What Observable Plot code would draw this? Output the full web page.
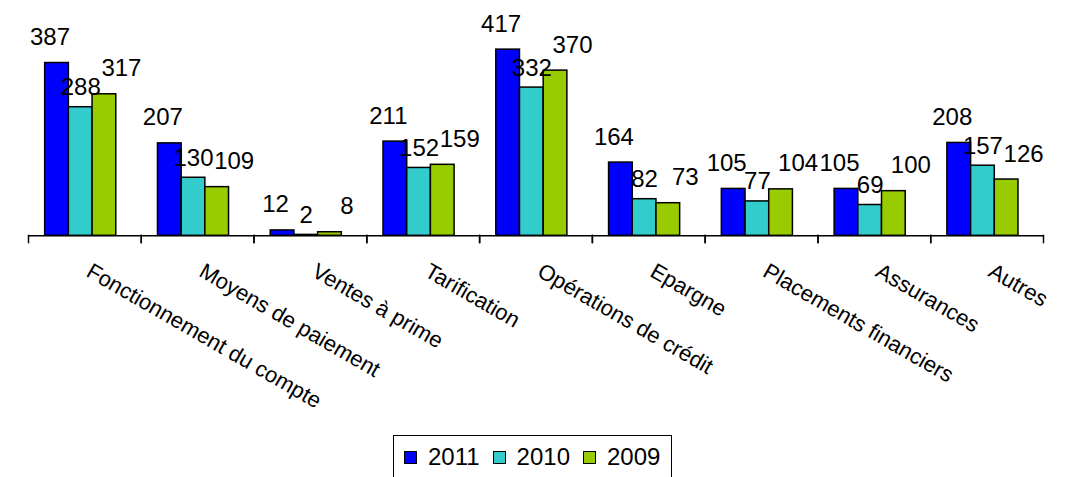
<!DOCTYPE html>
<html><head><meta charset="utf-8">
<script src="https://cdn.jsdelivr.net/npm/d3@7"></script>
<script src="https://cdn.jsdelivr.net/npm/@observablehq/plot@0.6"></script>
<style>
body{margin:0;background:#fff;font-family:"Liberation Sans",Arial,sans-serif;}
#chart svg{display:block;}
#legend{position:absolute;left:393px;top:435px;width:279px;height:60px;border:1.5px solid #000;box-sizing:border-box;display:flex;align-items:flex-start;padding:7px 0 0 10px;font-size:24px;color:#000;}
.item{display:flex;align-items:center;margin-right:13px;}
.sw{width:11px;height:11px;border:1.5px solid #000;margin-right:11px;}
</style></head><body>
<div id="chart"></div>
<div id="legend"></div>
<script>
const categories = ["Fonctionnement du compte","Moyens de paiement","Ventes à prime","Tarification","Opérations de crédit","Epargne","Placements financiers","Assurances","Autres"];
const years = ["2011","2010","2009"];
const values2011 = [387,207,12,211,417,164,105,105,208];
const values2010 = [288,130,2,152,332,82,77,69,157];
const values2009 = [317,109,8,159,370,73,104,100,126];
const colors = ["#0000ff","#33cccc","#99cc00"];

const series = [values2011, values2010, values2009];
const data = categories.flatMap((c,i) => years.map((y,j) => ({cat:c, year:y, value:series[j][i]})));
const labelDx = [-7, 0, 17];
const labelDy = [-18, -12, -18];

const font = "Liberation Sans, Arial, sans-serif";
const chart = Plot.plot({
  width: 1067,
  height: 430,
  marginLeft: 28,
  marginRight: 24,
  marginTop: 21,
  marginBottom: 188,
  style: {fontFamily: font, background: "#fff", color: "#000"},
  fx: {domain: categories, paddingInner: 0, paddingOuter: 0, round: false, axis: null, label: null},
  x: {domain: years, paddingInner: 0, paddingOuter: 0.88, align: 0.4, round: false, axis: null},
  y: {domain: [-15, 480], axis: null},
  color: {domain: years, range: colors},
  marks: [
    Plot.barY(data, {fx: "cat", x: "year", y: "value", fill: "year", stroke: "#000", strokeWidth: 1.5}),
    Plot.ruleY([0], {stroke: "#000", strokeWidth: 1.5}),
    Plot.frame({anchor: "left", insetTop: 214, stroke: "#000", strokeWidth: 1.5}),
    Plot.frame({anchor: "right", insetTop: 214, stroke: "#000", strokeWidth: 1.5}),
    ...years.map((yr, j) => Plot.text(data.filter(d => d.year === yr), {
      fx: "cat", x: "year", y: "value", text: d => String(d.value),
      dy: labelDy[j], dx: labelDx[j], lineAnchor: "bottom", fontSize: 24, fill: "#000"
    })),
    Plot.text(categories, {fx: d => d, text: d => d, frameAnchor: "bottom", rotate: 30,
      textAnchor: "start", lineAnchor: "bottom", dy: 33, fontSize: 22, fill: "#000"})
  ]
});
document.getElementById("chart").appendChild(chart);

const legend = document.getElementById("legend");
years.forEach((yr, j) => {
  const it = document.createElement("div");
  it.className = "item";
  const sw = document.createElement("div");
  sw.className = "sw";
  sw.style.background = colors[j];
  const t = document.createElement("span");
  t.textContent = yr;
  it.appendChild(sw); it.appendChild(t);
  legend.appendChild(it);
});
</script>
</body></html>
